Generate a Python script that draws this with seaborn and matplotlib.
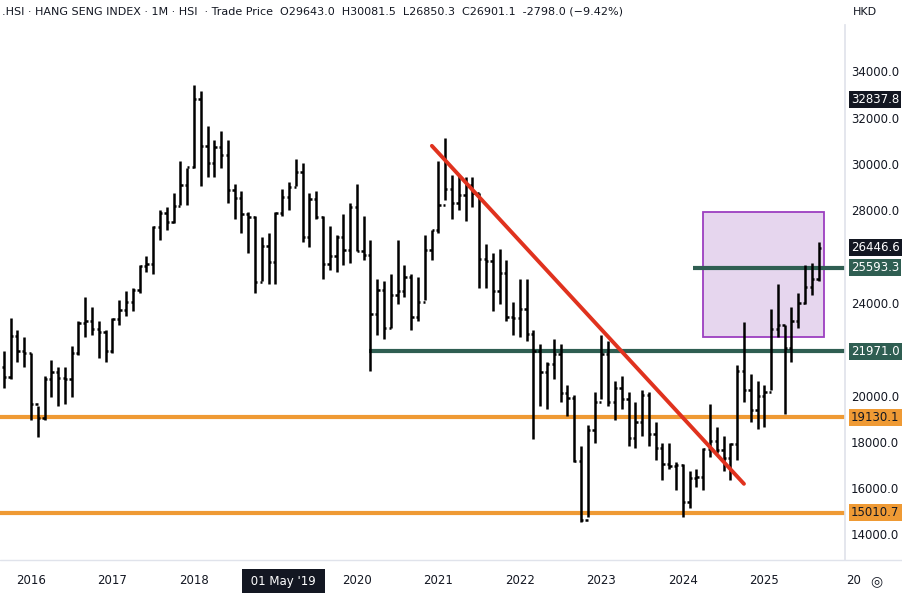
import numpy as np
import pandas as pd
import matplotlib
matplotlib.use("Agg")
import matplotlib.pyplot as plt
import seaborn as sns

sns.set_theme(style="white", font="DejaVu Sans")

# ── monthly OHLC, Sep 2015 .. Sep 2025 ───────────────────────────────────────
START_YEAR, START_MONTH = 2015, 9
FIRST_OPEN = 21300
CLOSE = [20846, 22640, 21996, 21914,
         19683, 19112, 20777, 21067, 20815, 20794, 21891, 23177, 23297, 22935, 22790, 22001,
         23361, 23741, 24112, 24615, 25661, 25765, 27324, 27970, 27554, 28246, 29177, 29919,
         32887, 30845, 30093, 30808, 30469, 28955, 28583, 27889, 27789, 24980, 26507, 25846,
         27942, 28633, 29051, 29699, 26901, 28543, 27778, 25725, 26092, 26907, 26346, 28190,
         26313, 26130, 23603, 24644, 22961, 24427, 24595, 25177, 23459, 24107, 26341, 27231,
         28284, 28980, 28378, 28725, 29152, 28828, 25961, 25878, 24576, 25377, 23475, 23398,
         23802, 22713, 21997, 21089, 21415, 21860, 20157, 19955, 17223, 14687, 18597, 19781,
         21842, 19786, 20400, 19895, 18234, 18916, 20079, 18382, 17810, 17112, 17042, 17047,
         15485, 16511, 16541, 17763, 18080, 17719, 17345, 17989, 21134, 20317, 19424, 20060,
         20225, 22941, 23120, 22119, 23290, 24072, 24773, 25077, 26447]
HIGH = [22000, 23400, 22900, 22600,
        21900, 19600, 20900, 21600, 21300, 21300, 22200, 23300, 24300, 23900, 23300, 22900,
        23400, 24200, 24600, 24700, 25700, 26100, 27400, 28100, 28200, 28800, 30200, 29900,
        33480, 33200, 31700, 31100, 31500, 31100, 29200, 28900, 28000, 27800, 26900, 27100,
        28000, 29000, 29300, 30280, 30100, 28800, 28900, 27800, 27400, 27000, 27900, 28400,
        29200, 27800, 26800, 25100, 25000, 25300, 26800, 25700, 25300, 25200, 27000, 27200,
        30200, 31180, 29600, 29600, 29500, 29500, 28800, 26600, 26200, 26400, 25900, 24100,
        25100, 25100, 22900, 22300, 21500, 22500, 22300, 20500, 20100, 17900, 18800, 20200,
        22700, 22400, 20700, 20900, 20200, 19800, 20300, 20200, 18900, 18000, 18000, 17200,
        17100, 16800, 16900, 17800, 19700, 18700, 18300, 18000, 21400, 23240, 21000, 20700,
        20500, 23800, 24900, 23100, 23900, 24500, 25700, 25800, 26700]
LOW = [20370, 20800, 21500, 21300,
       19000, 18280, 19000, 20000, 19600, 19700, 20000, 21800, 22600, 22700, 21700, 21500,
       21900, 23100, 23500, 23700, 24500, 25400, 25300, 26800, 27200, 27500, 28300, 28300,
       29900, 29100, 29500, 29500, 29900, 28400, 27700, 27100, 26200, 24500, 25000, 24900,
       24900, 27800, 28100, 29100, 26700, 26500, 27700, 25100, 25500, 25400, 25700, 25800,
       26300, 25900, 21140, 22700, 22500, 23000, 24000, 24300, 22900, 23300, 24200, 25900,
       27100, 28500, 27700, 28100, 27600, 28200, 24700, 24700, 23700, 24000, 23300, 22700,
       22600, 22400, 18200, 19600, 19500, 20800, 19800, 19200, 17200, 14600, 14800, 18000,
       19900, 19600, 19000, 19500, 17900, 17800, 18300, 17900, 17300, 16400, 16900, 16000,
       14800, 15200, 16100, 16000, 17400, 17600, 16800, 16400, 17300, 19800, 18900, 18600,
       18700, 20300, 22600, 19260, 21500, 23000, 24000, 24400, 25000]

LEVELS_ORANGE = [19130.1, 15010.7]
LEVELS_GREEN = [(21971.0, 2020.15), (25593.3, 2024.13)]
TREND = [(2020.92, 30850), (2024.75, 16250)]
ZONE = (2024.25, 2025.73, 22600, 28000)
YEARS = list(range(2016, 2026))
PRICE_TICKS = [14000, 16000, 18000, 20000, 22000, 24000, 28000, 30000, 32000, 34000]

n = len(CLOSE)
t = np.array([START_YEAR + (START_MONTH - 1 + i) / 12 for i in range(n)])
df = pd.DataFrame({"t": t, "open": [FIRST_OPEN] + CLOSE[:-1], "high": HIGH,
                   "low": LOW, "close": CLOSE})

fig = plt.figure(figsize=(9.02, 5.93), dpi=100)
ax = fig.add_axes([0, 33 / 593, 845 / 902, 535 / 593])
X0, X1 = 2015.62, 2025.99
Y0, Y1 = 12960, 36070
ax.set_xlim(X0, X1)
ax.set_ylim(Y0, Y1)

# zone + levels
ax.add_patch(plt.Rectangle((ZONE[0], ZONE[2]), ZONE[1] - ZONE[0], ZONE[3] - ZONE[2],
                           facecolor="#e6d6ee", edgecolor="#9c3fc0", lw=1.3, zorder=1))
for lv in LEVELS_ORANGE:
    ax.axhline(lv, color="#ef9a34", lw=3, zorder=2)
for lv, x0 in LEVELS_GREEN:
    ax.hlines(lv, x0, X1, color="#2f5e52", lw=3, zorder=2)

# OHLC bars
w = 0.028
ax.vlines(df.t, df.low, df.high, color="black", lw=1.8, zorder=3)
ax.hlines(df.open, df.t - w, df.t, color="black", lw=1.8, zorder=3)
ax.hlines(df.close, df.t, df.t + w, color="black", lw=1.8, zorder=3)

sns.lineplot(x=[p[0] for p in TREND], y=[p[1] for p in TREND], ax=ax,
             color="#e0321e", lw=2.8, zorder=4)

# axes decoration
for s in ["top", "left", "bottom"]:
    ax.spines[s].set_visible(False)
ax.spines["right"].set_color("#e0e3eb")
ax.set_yticks([])
ax.set_xticks([])
fig.add_artist(plt.Line2D([0, 1], [33 / 593, 33 / 593], color="#e0e3eb", lw=1))

def ypx(v):
    return 33 / 593 + (v - Y0) / (Y1 - Y0) * 535 / 593

def xpx(v):
    return (v - X0) / (X1 - X0) * 845 / 902

for v in PRICE_TICKS:
    fig.text(851 / 902, ypx(v), f"{v:.1f}", fontsize=8.5, color="#131722", va="center")

for v, bg, fg in [(32837.8, "#131722", "white"), (26446.6, "#131722", "white"),
                  (25593.3, "#2f5e52", "white"), (21971.0, "#2f5e52", "white"),
                  (19130.1, "#ef9a34", "#131722"), (15010.7, "#ef9a34", "#131722")]:
    fig.text(851 / 902, ypx(v), f"{v:.1f}", fontsize=8.5, color=fg, va="center",
             bbox=dict(boxstyle="square,pad=0.18", fc=bg, ec="none"))

for yr in YEARS:
    if yr == 2019:
        continue
    fig.text(xpx(yr), 12 / 593, str(yr), fontsize=8.5, color="#131722", ha="center",
             va="center")
fig.text(xpx(2019.1), 12 / 593, " 01 May '19 ", fontsize=8.5, color="white", ha="center",
         va="center", bbox=dict(boxstyle="square,pad=0.45", fc="#131722", ec="none"))
fig.text(xpx(2026), 12 / 593, "20", fontsize=8.5, color="#131722", ha="left", va="center")
fig.text(876 / 902, 12 / 593, "\u25ce", fontsize=10, color="#131722", ha="center", va="center")

fig.text(2 / 902, 581 / 593,
         ".HSI · HANG SENG INDEX · 1M · HSI  · Trade Price  O29643.0  H30081.5  L26850.3  C26901.1  -2798.0 (\u22129.42%)",
         fontsize=8, color="#131722", va="center")
fig.text(853 / 902, 581 / 593, "HKD", fontsize=8, color="#131722", va="center")

fig.savefig("out.png", dpi=100)
